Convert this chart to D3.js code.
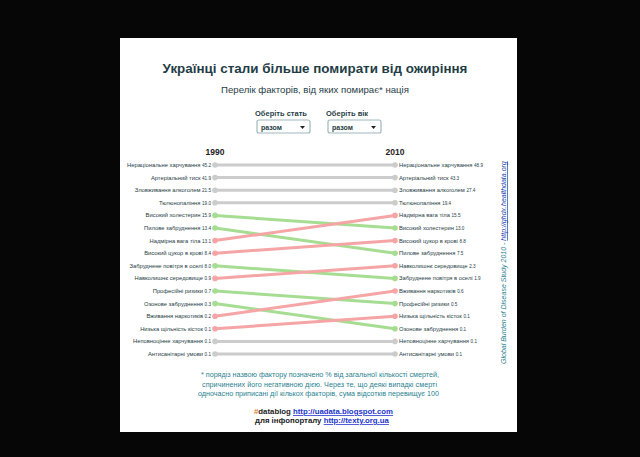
<!DOCTYPE html>
<html><head><meta charset="utf-8">
<script src="https://cdn.jsdelivr.net/npm/d3@7"></script>
<style>
html,body{margin:0;padding:0;background:#060606;}
svg{display:block;font-family:"Liberation Sans",Arial,sans-serif;}
</style></head>
<body><svg id="c" width="640" height="457"></svg>
<script>
const years = ["1990", "2010"];
const factors1990 = ["Нераціональне харчування","Артеріальний тиск","Зловживання алкоголем","Тютюнопаління","Високий холестерин","Пилове забруднення","Надмірна вага тіла","Високий цукор в крові","Забруднене повітря в оселі","Навколишнє середовище","Професійні ризики","Озонове забруднення","Вживання наркотиків","Низька щільність кісток","Неповноцінне харчування","Антисанітарні умови"];
const values1990 = [45.2,41.9,21.5,19.0,15.9,13.4,13.1,8.4,8.0,0.9,0.7,0.3,0.2,0.1,0.1,0.1];
const factors2010 = ["Нераціональне харчування","Артеріальний тиск","Зловживання алкоголем","Тютюнопаління","Надмірна вага тіла","Високий холестерин","Високий цукор в крові","Пилове забруднення","Навколишнє середовище","Забруднене повітря в оселі","Вживання наркотиків","Професійні ризики","Низька щільність кісток","Озонове забруднення","Неповноцінне харчування","Антисанітарні умови"];
const values2010 = [48.9,43.3,27.4,19.4,15.5,13.0,8.8,7.5,2.3,1.9,0.6,0.5,0.1,0.1,0.1,0.1];

const svg = d3.select("#c");
svg.append("rect").attr("x",120).attr("y",38).attr("width",397).attr("height",394).attr("fill","#fff");

const dark = "#1f3d45";
const teal = "#2a7f8f";

svg.append("text").attr("x",315).attr("y",73).attr("text-anchor","middle")
  .attr("font-size",13.4).attr("font-weight","bold").attr("fill",dark)
  .text("Українці стали більше помирати від ожиріння");
svg.append("text").attr("x",315).attr("y",93).attr("text-anchor","middle")
  .attr("font-size",9.6).attr("fill",dark)
  .text("Перелік факторів, від яких помирає* нація");

// dropdowns
[[255,"Оберіть стать"],[326,"Оберіть вік"]].forEach(([x,lab])=>{
  svg.append("text").attr("x",x).attr("y",116).attr("font-size",7.5).attr("font-weight","bold").attr("fill",dark).text(lab);
  svg.append("rect").attr("x",x+2).attr("y",120).attr("width",53).attr("height",13).attr("rx",2)
    .attr("fill","#fff").attr("stroke","#9fb8bd").attr("stroke-width",1.2);
  svg.append("text").attr("x",x+6).attr("y",129.5).attr("font-size",7).attr("font-weight","bold").attr("fill",dark).text("разом");
  svg.append("path").attr("d",`M${x+45},126 l5,0 l-2.5,3 z`).attr("fill","#222");
});

const x = d3.scalePoint().domain(years).range([215,395]);
const y = d3.scalePoint().domain(d3.range(16)).range([165,354]);

years.forEach(yr=>{
  svg.append("text").attr("x",x(yr)).attr("y",155).attr("text-anchor","middle")
    .attr("font-size",8.5).attr("font-weight","bold").attr("fill","#222").text(yr);
});

const grey="#cccccc", green="#a6dd92", red="#f5a5a5";
const links = factors1990.map((f,i)=>{
  const j = factors2010.indexOf(f);
  const col = j<i ? red : (j>i ? green : grey);
  return {f,i,j,col};
});

svg.append("g").selectAll("line").data(links).join("line")
  .attr("x1",x("1990")).attr("x2",x("2010"))
  .attr("y1",d=>y(d.i)).attr("y2",d=>y(d.j))
  .attr("stroke",d=>d.col).attr("stroke-width",3);
svg.append("g").selectAll("circle").data(links).join("circle")
  .attr("cx",x("1990")).attr("cy",d=>y(d.i)).attr("r",2.8).attr("fill",d=>d.col);
svg.append("g").selectAll("circle").data(links).join("circle")
  .attr("cx",x("2010")).attr("cy",d=>y(d.j)).attr("r",2.8).attr("fill",d=>d.col);

const lt = svg.append("g").selectAll("text").data(factors1990).join("text")
  .attr("x",x("1990")-4).attr("y",(d,i)=>y(i)+2).attr("text-anchor","end")
  .attr("font-size",5.8).attr("fill",dark);
lt.append("tspan").text(d=>d+" ");
lt.append("tspan").attr("font-size",4.6).text((d,i)=>values1990[i].toFixed(1));

const rt = svg.append("g").selectAll("text").data(factors2010).join("text")
  .attr("x",x("2010")+4).attr("y",(d,i)=>y(i)+2).attr("text-anchor","start")
  .attr("font-size",5.8).attr("fill",dark);
rt.append("tspan").text(d=>d+" ");
rt.append("tspan").attr("font-size",4.6).text((d,i)=>values2010[i].toFixed(1));

// side source
const side = svg.append("text").attr("transform","translate(506,364) rotate(-90)")
  .attr("font-size",7).attr("font-style","italic").attr("fill",teal);
side.append("tspan").text("Global Burden of Disease Study 2010 - ");
side.append("tspan").attr("fill","#2244aa").attr("text-decoration","underline").text("http://ghdx.healthdata.org");

// footnote
const notes = ["* порядіз назвою фактору позначено % від загальної кількості смертей,",
  "спричинених його негативною дією. Через те, що деякі випадкі смерті",
  "одночасно приписані дії кількох факторів, сума відсотків перевищує 100"];
notes.forEach((t,i)=>{
  const tx = svg.append("text").attr("x",i==0?201:i==1?202:198).attr("y",377+i*9.5)
    .attr("font-size",7.2).attr("fill",teal).text(t);
  if(i>0) tx.attr("textLength",i==1?235:241).attr("lengthAdjust","spacing");
});

const f1 = svg.append("text").attr("x",254).attr("y",414).attr("font-size",7.8).attr("font-weight","bold").attr("fill","#222");
f1.append("tspan").attr("fill","#e07a2a").text("#");
f1.append("tspan").text("datablog ");
f1.append("tspan").attr("fill","#2233cc").attr("text-decoration","underline").text("http://uadata.blogspot.com");
const f2 = svg.append("text").attr("x",255).attr("y",423).attr("font-size",7.8).attr("font-weight","bold").attr("fill","#222");
f2.append("tspan").text("для  інфопорталу  ");
f2.append("tspan").attr("fill","#2233cc").attr("text-decoration","underline").text("http://texty.org.ua");
</script></body></html>
